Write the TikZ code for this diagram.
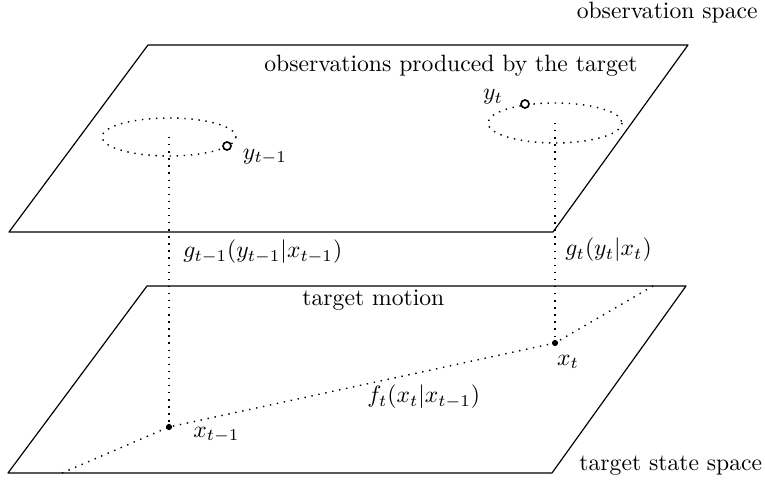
\documentclass[tikz,border=0pt]{standalone}
\begin{document}
\begin{tikzpicture}[x=0.1488mm,y=-0.1488mm,line join=round,
    plane/.style={line width=0.5pt},
    link/.style={dash pattern=on 0.6pt off 2.4pt,line width=0.6pt},
    obsmark/.style={circle,draw,line width=0.7pt,inner sep=0pt,minimum size=3.4pt},
    statemark/.style={circle,fill,inner sep=0pt,minimum size=2.6pt},
    lbl/.style={inner sep=0pt}]
  % Match the original artwork frame.
  \useasboundingbox (0,0) rectangle (765,484);

  % Observation plane, ordered around the face.
  \coordinate (o0) at (148,45);
  \coordinate (o1) at (688,45);
  \coordinate (o2) at (553,232);
  \coordinate (o3) at (9,232);
  \draw[plane] (o0) -- (o1) -- (o2) -- (o3) -- cycle;

  % State plane.
  \coordinate (s0) at (147,286);
  \coordinate (s1) at (686,286);
  \coordinate (s2) at (552,473);
  \coordinate (s3) at (8,473);
  \draw[plane] (s0) -- (s1) -- (s2) -- (s3) -- cycle;

  % Measurement regions around the predicted observations.
  \coordinate (e1) at (169,137);
  \coordinate (e2) at (555,123);
  \draw[link] (e1) ellipse[x radius=67,y radius=19];
  \draw[link] (e2) ellipse[x radius=67,y radius=20];

  % Target states and trajectory.
  \node[statemark] (x1) at (169,427) {};
  \node[statemark] (x2) at (555,343) {};
  \coordinate (tr0) at (62,473);
  \coordinate (tr3) at (653,286);
  \draw[link] (tr0) -- (x1.center) -- (x2.center) -- (tr3);

  % Likelihood links between planes.
  \draw[link] (e1) -- (x1);
  \draw[link] (e2) -- (x2);

  % Observations are drawn on top.
  \node[obsmark,fill=white] (y1) at (227,146) {};
  \node[obsmark,fill=white] (y2) at (525,104) {};

  % Labels.
  \node[lbl,anchor=east] at (758,13) {observation space};
  \node[lbl] at (451,66) {observations produced by the target};
  \node[lbl] at (493,97) {$y_t$};
  \node[lbl] at (265,157) {$y_{t-1}$};
  \node[lbl,anchor=west] at (183,252) {$g_{t-1}(y_{t-1}|x_{t-1})$};
  \node[lbl,anchor=west] at (565,250) {$g_t(y_t|x_t)$};
  \node[lbl,anchor=west] at (302,300) {target motion};
  \node[lbl] at (568,362) {$x_t$};
  \node[lbl,anchor=west] at (367,397) {$f_t(x_t|x_{t-1})$};
  \node[lbl,anchor=west] at (193,435) {$x_{t-1}$};
  \node[lbl,anchor=west] at (579,466) {target state space};
\end{tikzpicture}
\end{document}
